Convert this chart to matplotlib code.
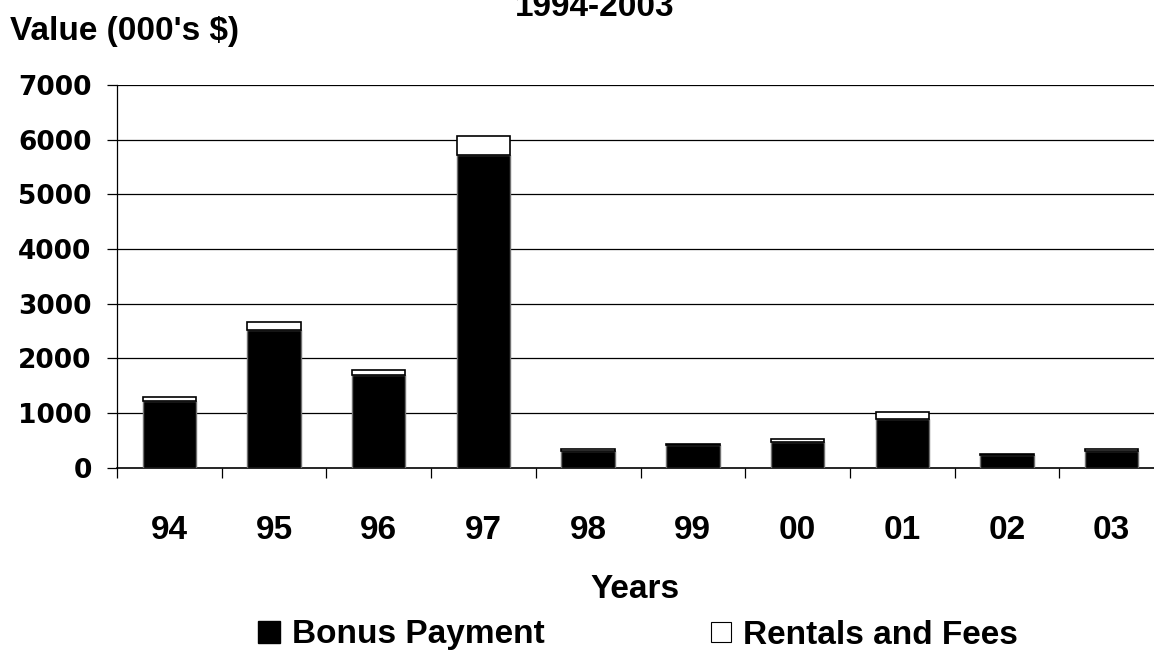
import matplotlib
matplotlib.use('Agg')
import matplotlib.pyplot as plt
from matplotlib.lines import Line2D

# values in 000's $
years = ['94', '95', '96', '97', '98', '99', '00', '01', '02', '03']
bonus = [1210, 2525, 1700, 5710, 300, 415, 470, 890, 235, 310]
rentals = [75, 145, 90, 350, 45, 12, 50, 120, 8, 25]
yticks = [0, 1000, 2000, 3000, 4000, 5000, 6000, 7000]

plt.rcParams['font.family'] = ['Liberation Sans', 'DejaVu Sans']
plt.rcParams['font.weight'] = 'bold'

W, H = 1154, 658
fig = plt.figure(figsize=(W / 100, H / 100), dpi=100)
ax = fig.add_axes([117 / W, 1 - 467.5 / H, 1047 / W, 382.5 / H])

x = list(range(len(years)))
ax.bar(x, bonus, width=0.51, color='black', edgecolor='#707070', linewidth=1, zorder=3)
ax.bar(x, rentals, width=0.51, bottom=bonus, color='white', edgecolor='black', linewidth=1.2, zorder=3)

ax.set_xlim(-0.5, 9.5)
ax.set_ylim(0, 7000)
ax.set_yticks(yticks)
ax.set_yticklabels([str(v) for v in yticks], fontsize=19, fontweight='bold', family='DejaVu Sans')
for v in yticks[1:]:
    ax.axhline(v, color='black', linewidth=0.9, zorder=1)

# major ticks between categories, labels on minor ticks at the centres
ax.set_xticks([i - 0.5 for i in range(len(years) + 1)])
ax.set_xticklabels([])
ax.set_xticks(x, minor=True)
ax.set_xticklabels(years, minor=True, fontsize=24, fontweight='bold')
ax.tick_params(axis='x', which='major', direction='out', length=7.5, width=0.9)
ax.tick_params(axis='x', which='minor', length=0, pad=34)
ax.tick_params(axis='y', direction='out', length=7.2, width=0.9, pad=11)

ax.spines['top'].set_visible(False)
ax.spines['right'].set_visible(False)
ax.spines['left'].set_linewidth(0.9)
ax.spines['bottom'].set_linewidth(1.2)

fig.text(10 / W, 1 - 40 / H, "Value (000's $)", fontsize=24, fontweight='bold', va='baseline', ha='left')
fig.text(515 / W, 1 - 16 / H, '1994-2003', fontsize=24, fontweight='bold', va='baseline', ha='left')
fig.text(635 / W, 1 - 598 / H, 'Years', fontsize=24, fontweight='bold', va='baseline', ha='center')

handles = [
    Line2D([], [], marker='s', linestyle='none', markersize=15.8, markerfacecolor='black', markeredgecolor='black'),
    Line2D([], [], marker='s', linestyle='none', markersize=14, markerfacecolor='white', markeredgecolor='black', markeredgewidth=0.8),
]
fig.legend(handles, ['Bonus Payment', 'Rentals and Fees'], loc='center left', bbox_to_anchor=(252.5 / W, 1 - 635 / H),
           ncol=2, frameon=False, prop={'size': 24, 'weight': 'bold'}, handlelength=1.0, handletextpad=0.17,
           columnspacing=4.8, borderpad=0, borderaxespad=0)

fig.savefig('out.png', dpi=100)
